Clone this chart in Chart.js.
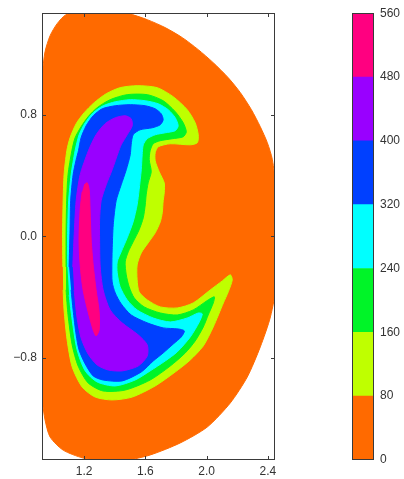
<!DOCTYPE html>
<html>
<head>
<meta charset="utf-8">
<script src="https://cdn.jsdelivr.net/npm/chart.js@4.4.1/dist/chart.umd.min.js"></script>
<style>
html,body{margin:0;padding:0;background:#fff;width:404px;height:479px;overflow:hidden}
#wrap{position:relative;width:404px;height:479px}
#main{position:absolute;left:0;top:0}
#cbar{position:absolute;left:320px;top:0}
</style>
</head>
<body>
<div id="wrap">
<canvas id="main" width="320" height="479"></canvas>
<canvas id="cbar" width="84" height="479"></canvas>
</div>
<script>
// ---- data ----
const levelValues = [0, 80, 160, 240, 320, 400, 480, 560];
const xTickValues = [1.2, 1.6, 2.0, 2.4];
const yTickValues = [-0.8, 0.0, 0.8];
const rRange = [0.925, 2.446];
const zRange = [-1.471, 1.469];

// contour outlines (R, Z) of region >= level
const r0 = [0.926,0.945,0.978,1.024,1.082,1.174,1.370,1.488,1.612,1.729,1.841,1.945,2.043,2.141,2.220,2.292,2.350,2.396,2.429,2.448,2.455,2.416,2.350,2.265,2.154,2.004,1.827,1.631,1.481,1.305,1.193,1.063,0.978,0.945,0.926];
const z0 = [1.063,1.215,1.320,1.399,1.458,1.471,1.471,1.465,1.425,1.373,1.307,1.228,1.142,1.043,0.945,0.833,0.721,0.616,0.504,0.339,-0.306,-0.530,-0.727,-0.925,-1.096,-1.254,-1.359,-1.438,-1.471,-1.471,-1.458,-1.406,-1.320,-1.208,-1.076];

const r80 = [1.061,1.059,1.063,1.069,1.087,1.108,1.148,1.200,1.265,1.344,1.435,1.546,1.677,1.782,1.873,1.925,1.945,1.939,1.893,1.762,1.684,1.664,1.664,1.690,1.723,1.723,1.716,1.710,1.697,1.664,1.618,1.573,1.546,1.546,1.559,1.612,1.697,1.808,1.912,2.024,2.102,2.154,2.167,2.141,2.109,2.043,1.978,1.893,1.795,1.664,1.514,1.383,1.272,1.187,1.122,1.089,1.069,1.063];
const z80 = [-0.201,0.010,0.234,0.405,0.563,0.648,0.741,0.813,0.879,0.938,0.978,0.991,0.978,0.918,0.833,0.747,0.668,0.616,0.602,0.609,0.589,0.550,0.497,0.425,0.352,0.286,0.234,0.155,0.095,0.023,-0.043,-0.109,-0.188,-0.286,-0.365,-0.418,-0.464,-0.471,-0.438,-0.352,-0.293,-0.253,-0.286,-0.365,-0.438,-0.596,-0.721,-0.813,-0.892,-0.984,-1.057,-1.076,-1.057,-0.991,-0.859,-0.681,-0.484,-0.352];

const r160 = [1.082,1.082,1.086,1.095,1.120,1.141,1.180,1.226,1.285,1.370,1.481,1.612,1.716,1.795,1.847,1.867,1.847,1.775,1.697,1.651,1.631,1.625,1.638,1.618,1.605,1.599,1.586,1.559,1.520,1.488,1.468,1.475,1.494,1.527,1.592,1.697,1.808,1.912,2.010,2.050,2.043,2.010,1.978,1.925,1.860,1.762,1.631,1.468,1.324,1.226,1.161,1.122,1.095,1.082];
const z160 = [-0.201,0.010,0.234,0.405,0.563,0.648,0.721,0.787,0.846,0.899,0.932,0.932,0.892,0.820,0.747,0.688,0.655,0.642,0.629,0.609,0.563,0.504,0.425,0.352,0.273,0.207,0.122,0.043,-0.036,-0.102,-0.168,-0.253,-0.332,-0.405,-0.464,-0.504,-0.517,-0.484,-0.418,-0.398,-0.438,-0.517,-0.596,-0.688,-0.767,-0.853,-0.945,-1.011,-1.017,-0.964,-0.853,-0.714,-0.517,-0.352];

const r240 = [1.091,1.092,1.099,1.115,1.141,1.167,1.207,1.259,1.324,1.403,1.501,1.599,1.684,1.749,1.795,1.814,1.795,1.729,1.664,1.612,1.586,1.579,1.573,1.559,1.546,1.520,1.481,1.442,1.416,1.416,1.435,1.481,1.546,1.651,1.762,1.873,1.945,1.971,1.952,1.893,1.808,1.729,1.631,1.533,1.403,1.285,1.207,1.154,1.122,1.102];
const z240 = [-0.201,0.010,0.234,0.405,0.563,0.668,0.747,0.813,0.859,0.885,0.899,0.892,0.872,0.833,0.780,0.727,0.695,0.681,0.668,0.642,0.602,0.537,0.438,0.306,0.207,0.095,-0.010,-0.102,-0.168,-0.240,-0.332,-0.418,-0.484,-0.537,-0.563,-0.537,-0.504,-0.510,-0.563,-0.662,-0.760,-0.820,-0.885,-0.945,-0.984,-0.958,-0.885,-0.747,-0.550,-0.385];

const r320 = [1.102,1.108,1.112,1.128,1.148,1.163,1.180,1.213,1.259,1.318,1.403,1.501,1.599,1.664,1.703,1.716,1.697,1.644,1.566,1.520,1.507,1.501,1.475,1.442,1.409,1.390,1.383,1.381,1.383,1.403,1.442,1.507,1.612,1.716,1.814,1.854,1.834,1.782,1.716,1.651,1.573,1.448,1.324,1.259,1.207,1.167,1.148,1.128,1.115];
const z320 = [-0.201,0.043,0.234,0.405,0.504,0.563,0.648,0.727,0.793,0.839,0.859,0.866,0.859,0.839,0.806,0.767,0.734,0.714,0.701,0.668,0.602,0.537,0.438,0.339,0.234,0.076,-0.089,-0.201,-0.300,-0.372,-0.444,-0.517,-0.569,-0.602,-0.609,-0.622,-0.662,-0.708,-0.767,-0.820,-0.892,-0.951,-0.945,-0.918,-0.839,-0.747,-0.648,-0.484,-0.352];

const r400 = [1.126,1.135,1.148,1.174,1.228,1.278,1.337,1.403,1.468,1.507,1.514,1.481,1.442,1.424,1.383,1.344,1.311,1.301,1.301,1.305,1.324,1.370,1.448,1.553,1.612,1.612,1.553,1.448,1.357,1.285,1.226,1.180,1.154,1.135];
const z400 = [-0.201,0.010,0.234,0.405,0.563,0.668,0.741,0.780,0.793,0.774,0.727,0.668,0.602,0.556,0.438,0.339,0.234,0.109,-0.023,-0.201,-0.352,-0.484,-0.569,-0.648,-0.714,-0.787,-0.853,-0.885,-0.879,-0.846,-0.774,-0.668,-0.537,-0.352];

const r480 = [1.200,1.220,1.233,1.239,1.246,1.259,1.278,1.298,1.298,1.278,1.259,1.226,1.193,1.174,1.167,1.174,1.187];
const z480 = [0.339,0.352,0.306,0.174,-0.023,-0.188,-0.352,-0.497,-0.616,-0.655,-0.616,-0.497,-0.352,-0.188,-0.023,0.174,0.293];

// ---- styles ----
const bandColors = ['#ff6a00','#bfff00','#00f428','#00ffff','#0040ff','#9900ff','#ff0080'];
const textColor = '#333333';
const tickFont = {family: "'Liberation Sans', Arial, sans-serif", size: 12};

const contourR = [r0, r80, r160, r240, r320, r400, r480];
const contourZ = [z0, z80, z160, z240, z320, z400, z480];

function zip(r, z) { return r.map((x, i) => ({x: x, y: z[i]})); }
function fmt(v) { return (v < 0 ? '\u2212' : '') + Math.abs(v).toFixed(1); }

const framePlugin = {
  id: 'frame',
  afterDraw(chart, args, opts) {
    const ctx = chart.ctx, a = chart.chartArea;
    ctx.save();
    ctx.strokeStyle = '#3a3a3a';
    ctx.lineWidth = 1;
    if (opts.ticks) {
      const xs = chart.scales.x, ys = chart.scales.y, L = 4;
      ctx.beginPath();
      xs.ticks.forEach(t => {
        const p = Math.round(xs.getPixelForValue(t.value)) + 0.5;
        ctx.moveTo(p, a.top); ctx.lineTo(p, a.top + L);
        ctx.moveTo(p, a.bottom); ctx.lineTo(p, a.bottom - L);
      });
      ys.ticks.forEach(t => {
        const p = Math.round(ys.getPixelForValue(t.value)) + 0.5;
        ctx.moveTo(a.left, p); ctx.lineTo(a.left + L, p);
        ctx.moveTo(a.right, p); ctx.lineTo(a.right - L, p);
      });
      ctx.stroke();
    }
    ctx.strokeRect(Math.round(a.left) + 0.5, Math.round(a.top) + 0.5,
                   Math.round(a.right - a.left) - 1, Math.round(a.bottom - a.top) - 1);
    ctx.restore();
  }
};

new Chart(document.getElementById('main'), {
  type: 'scatter',
  data: {
    datasets: contourR.map((r, i) => ({
      label: String(levelValues[i]),
      data: zip(r, contourZ[i]),
      showLine: true,
      fill: 'shape',
      tension: 0.25,
      backgroundColor: bandColors[i],
      borderColor: bandColors[i],
      borderWidth: 1,
      pointRadius: 0,
      order: contourR.length - i
    }))
  },
  options: {
    responsive: false,
    animation: false,
    devicePixelRatio: 1,
    layout: {padding: {left: 0, right: 45, top: 13, bottom: 0}},
    scales: {
      x: {
        type: 'linear', min: rRange[0], max: rRange[1],
        afterBuildTicks: s => { s.ticks = xTickValues.map(v => ({value: v})); },
        afterFit: s => { s.height = 19; },
        ticks: {callback: v => fmt(v), autoSkip: false, maxRotation: 0, padding: 4, color: textColor, font: tickFont},
        grid: {display: false, drawTicks: false},
        border: {display: false}
      },
      y: {
        type: 'linear', min: zRange[0], max: zRange[1],
        afterBuildTicks: s => { s.ticks = yTickValues.map(v => ({value: v})); },
        afterFit: s => { s.width = 42; },
        ticks: {callback: v => fmt(v), autoSkip: false, padding: 5, color: textColor, font: tickFont},
        grid: {display: false, drawTicks: false},
        border: {display: false}
      }
    },
    plugins: {legend: {display: false}, tooltip: {enabled: false}, frame: {ticks: true}}
  },
  plugins: [framePlugin]
});

new Chart(document.getElementById('cbar'), {
  type: 'bar',
  data: {
    labels: [''],
    datasets: bandColors.map((c, i) => ({
      data: [levelValues[i + 1] - levelValues[i]],
      backgroundColor: c,
      borderWidth: 0,
      barPercentage: 1,
      categoryPercentage: 1
    }))
  },
  options: {
    responsive: false,
    animation: false,
    devicePixelRatio: 1,
    layout: {padding: {left: 32, right: 0, top: 13, bottom: 19}},
    scales: {
      x: {display: false, stacked: true},
      y: {
        stacked: true, position: 'right', min: levelValues[0], max: levelValues[levelValues.length - 1],
        afterBuildTicks: s => { s.ticks = levelValues.map(v => ({value: v})); },
        afterFit: s => { s.width = 30; },
        ticks: {padding: 6, color: textColor, font: tickFont, autoSkip: false},
        grid: {display: false, drawTicks: false},
        border: {display: false}
      }
    },
    plugins: {legend: {display: false}, tooltip: {enabled: false}, frame: {ticks: false}}
  },
  plugins: [framePlugin]
});
</script>
</body>
</html>
